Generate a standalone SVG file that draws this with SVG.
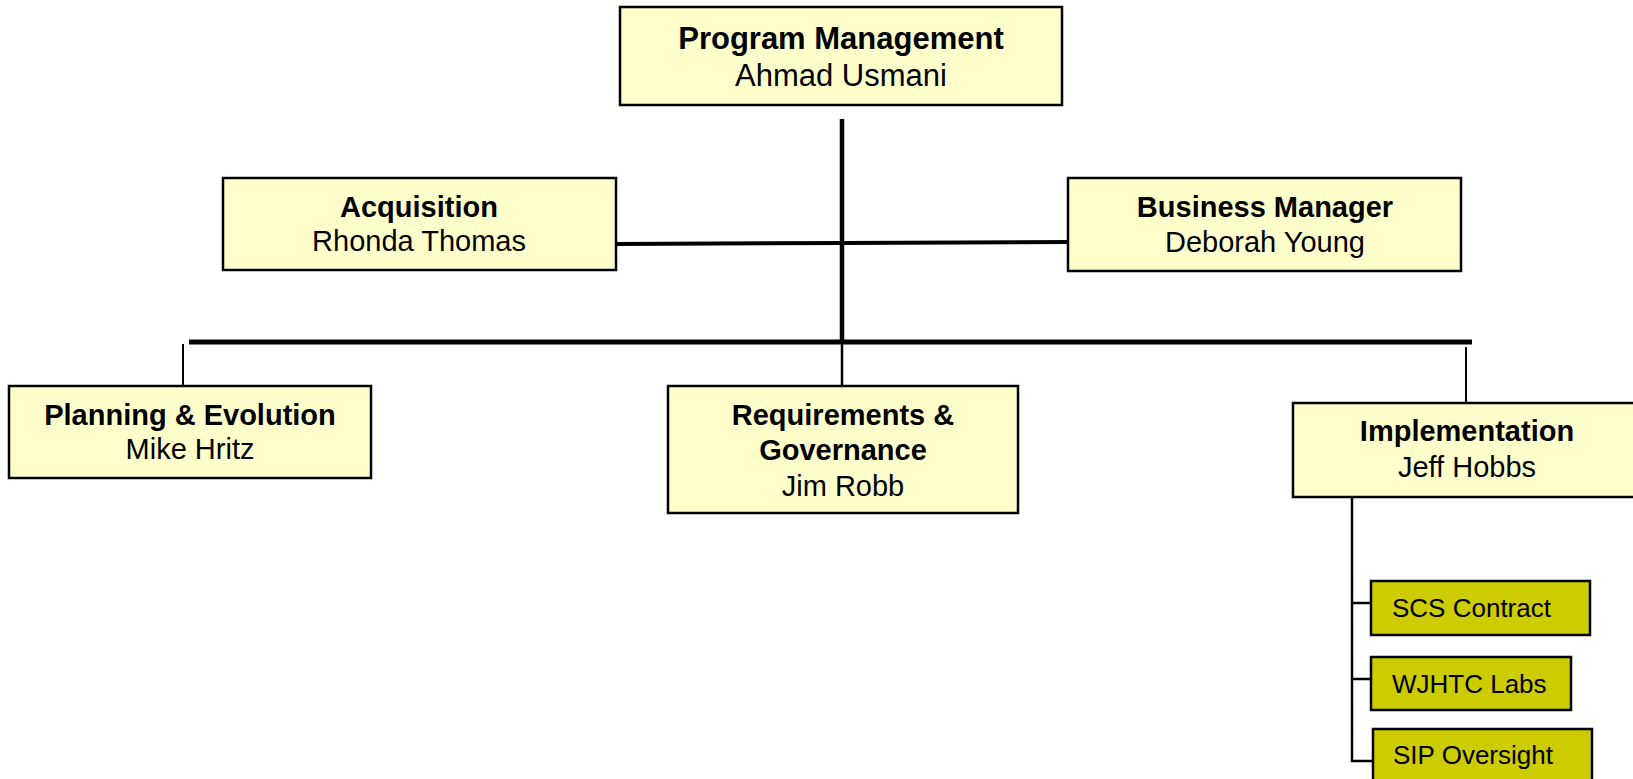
<svg xmlns="http://www.w3.org/2000/svg" width="1633" height="779" viewBox="0 0 1633 779">
<style>
.box{fill:#FFFFCC;stroke:#000;stroke-width:2.5}
.sub{fill:#CCCC00;stroke:#000;stroke-width:2.5}
text{font-family:"Liberation Sans",Arial,sans-serif;fill:#000}
.t{font-size:29px;text-anchor:middle}
.b{font-weight:bold}
.s{font-size:26px}
.ln{stroke:#000;fill:none}
</style>
<rect width="1633" height="779" fill="#fff"/>
<g id="connectors">
<line class="ln" x1="842" y1="119" x2="842" y2="342" stroke-width="4.5"/>
<line class="ln" x1="616" y1="244" x2="842" y2="243" stroke-width="4"/>
<line class="ln" x1="842" y1="243" x2="1068" y2="242" stroke-width="4"/>
<line class="ln" x1="189" y1="342" x2="1472" y2="342" stroke-width="5"/>
<line class="ln" x1="183" y1="344" x2="183" y2="386" stroke-width="2"/>
<line class="ln" x1="842" y1="344" x2="842" y2="386" stroke-width="2.5"/>
<line class="ln" x1="1466" y1="347" x2="1466" y2="403" stroke-width="2"/>
<polyline class="ln" points="1352,497 1352,761 1373,761" stroke-width="2.5"/>
<line class="ln" x1="1352" y1="603" x2="1371" y2="603" stroke-width="2.5"/>
<line class="ln" x1="1352" y1="679" x2="1371" y2="679" stroke-width="2.5"/>
</g>
<g id="program-management">
<rect class="box" x="620" y="7" width="442" height="98"/>
<text class="t b" x="841" y="49" style="font-size:31px">Program Management</text>
<text class="t" x="841" y="86" style="font-size:31px">Ahmad Usmani</text>
</g>
<g id="acquisition">
<rect class="box" x="223" y="178" width="393" height="92"/>
<text class="t b" x="419" y="217">Acquisition</text>
<text class="t" x="419" y="251">Rhonda Thomas</text>
</g>
<g id="business-manager">
<rect class="box" x="1068" y="178" width="393" height="93"/>
<text class="t b" x="1265" y="217">Business Manager</text>
<text class="t" x="1265" y="252">Deborah Young</text>
</g>
<g id="planning-evolution">
<rect class="box" x="9" y="386" width="362" height="92"/>
<text class="t b" x="190" y="425">Planning &amp; Evolution</text>
<text class="t" x="190" y="459">Mike Hritz</text>
</g>
<g id="requirements-governance">
<rect class="box" x="668" y="386" width="350" height="127"/>
<text class="t b" x="843" y="425">Requirements &amp;</text>
<text class="t b" x="843" y="460">Governance</text>
<text class="t" x="843" y="496">Jim Robb</text>
</g>
<g id="implementation">
<rect class="box" x="1293" y="403" width="360" height="94"/>
<text class="t b" x="1467" y="441">Implementation</text>
<text class="t" x="1467" y="477">Jeff Hobbs</text>
</g>
<g id="scs-contract">
<rect class="sub" x="1371" y="581" width="219" height="54"/>
<text class="s" x="1392" y="617">SCS Contract</text>
</g>
<g id="wjhtc-labs">
<rect class="sub" x="1371" y="657" width="200" height="53"/>
<text class="s" x="1392" y="693">WJHTC Labs</text>
</g>
<g id="sip-oversight">
<rect class="sub" x="1373" y="729" width="219" height="70"/>
<text class="s" x="1393" y="764">SIP Oversight</text>
</g>
</svg>
